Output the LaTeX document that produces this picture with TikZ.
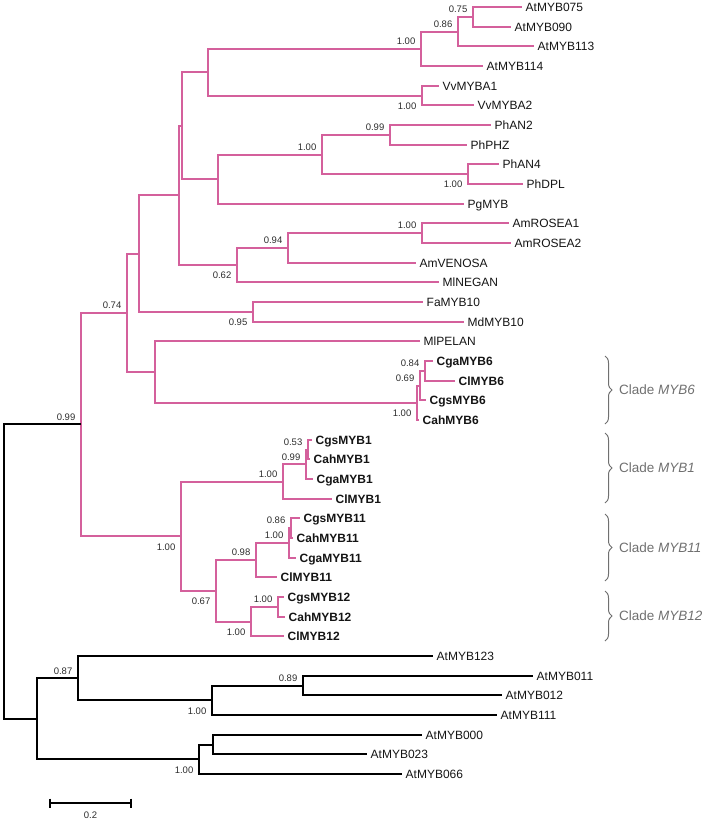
\documentclass[tikz,border=0pt]{standalone}
\usepackage{fontspec}
\setmainfont{Liberation Sans}
\usetikzlibrary{calc,decorations.pathreplacing}
\definecolor{pinkbr}{RGB}{212,96,156}
\definecolor{cladegray}{RGB}{112,112,112}
\definecolor{labgray}{RGB}{45,45,45}
\definecolor{leafcol}{RGB}{20,20,20}

\tikzset{
  br/.style={line width=2pt, draw=pinkbr, line join=miter},
  bb/.style={line width=2pt, draw=black, line join=miter},
  leaf/.style={anchor=west, inner xsep=3.5pt, inner ysep=0pt, text height=8.6pt, text depth=0pt,
     font=\fontsize{12}{14}\selectfont, text=leafcol},
  leafb/.style={leaf, font=\fontsize{12}{14}\selectfont\bfseries},
  supp/.style={anchor=east, inner sep=0pt, text height=6.8pt, text depth=0pt,
     font=\fontsize{9.5}{11}\selectfont, text=labgray},
  cladelab/.style={anchor=west, inner sep=0pt, text height=9.7pt, text depth=0pt,
     font=\fontsize{13.5}{16}\selectfont, text=cladegray},
  cbrace/.style={draw=cladegray, line width=1pt, decorate, decoration={brace, amplitude=7pt}},
}

% internal node: name, x, child A, child B, branch style
\newcommand{\inode}[5]{%
  \coordinate (tmpm) at ($(#3)!0.5!(#4)$);
  \coordinate (tmpx) at (#2,0);
  \coordinate (#1) at (tmpx |- tmpm);
  \draw[#5] (#1) |- (#3);
  \draw[#5] (#1) |- (#4);
}
% support value: node, text, vertical offset
\newcommand{\bsv}[3]{\node[supp] (s-#1) at ($(#1)+(-5.5,#3)$) {#2};}
\newcommand{\abv}{-7.5}
\newcommand{\blw}{10.5}

\begin{document}
\begin{tikzpicture}[x=1pt,y=-1pt]
\useasboundingbox (0,0) rectangle (714,820);

% ---------- leaves ----------
\node[leaf] (L1) at (522,7) {AtMYB075};
\node[leaf] (L2) at (511,27) {AtMYB090};
\node[leaf] (L3) at (534,46) {AtMYB113};
\node[leaf] (L4) at (483,66) {AtMYB114};
\node[leaf] (L5) at (439,86) {VvMYBA1};
\node[leaf] (L6) at (474,105) {VvMYBA2};
\node[leaf] (L7) at (491,125) {PhAN2};
\node[leaf] (L8) at (467,145) {PhPHZ};
\node[leaf] (L9) at (499,164) {PhAN4};
\node[leaf] (L10) at (523,184) {PhDPL};
\node[leaf] (L11) at (464,204) {PgMYB};
\node[leaf] (L12) at (509,223) {AmROSEA1};
\node[leaf] (L13) at (511,243) {AmROSEA2};
\node[leaf] (L14) at (416,263) {AmVENOSA};
\node[leaf] (L15) at (439,282) {MlNEGAN};
\node[leaf] (L16) at (423,302) {FaMYB10};
\node[leaf] (L17) at (464,322) {MdMYB10};
\node[leaf] (L18) at (420,341) {MlPELAN};
\node[leafb] (L19) at (433,361) {CgaMYB6};
\node[leafb] (L20) at (455,381) {ClMYB6};
\node[leafb] (L21) at (426,400) {CgsMYB6};
\node[leafb] (L22) at (419,420) {CahMYB6};
\node[leafb] (L23) at (312,440) {CgsMYB1};
\node[leafb] (L24) at (310,459) {CahMYB1};
\node[leafb] (L25) at (313,479) {CgaMYB1};
\node[leafb] (L26) at (332,499) {ClMYB1};
\node[leafb] (L27) at (300,518) {CgsMYB11};
\node[leafb] (L28) at (293,538) {CahMYB11};
\node[leafb] (L29) at (296,558) {CgaMYB11};
\node[leafb] (L30) at (277,577) {ClMYB11};
\node[leafb] (L31) at (284,597) {CgsMYB12};
\node[leafb] (L32) at (285,617) {CahMYB12};
\node[leafb] (L33) at (284,636) {ClMYB12};
\node[leaf] (L34) at (433,656) {AtMYB123};
\node[leaf] (L35) at (533,676) {AtMYB011};
\node[leaf] (L36) at (502,695) {AtMYB012};
\node[leaf] (L37) at (497,715) {AtMYB111};
\node[leaf] (L38) at (422,735) {AtMYB000};
\node[leaf] (L39) at (367,754) {AtMYB023};
\node[leaf] (L40) at (402,774) {AtMYB066};

% ---------- pink clade ----------
\inode{n075}{473}{L1}{L2}{br}
\inode{n086}{458}{n075}{L3}{br}
\inode{nAt}{421}{n086}{L4}{br}
\inode{nVv}{422}{L5}{L6}{br}
\inode{nAtVv}{208}{nAt}{nVv}{br}
\inode{nPh99}{390}{L7}{L8}{br}
\inode{nPhDPL}{468}{L9}{L10}{br}
\inode{nPh}{322}{nPh99}{nPhDPL}{br}
\inode{nPhPg}{218}{nPh}{L11}{br}
\inode{nA}{182}{nAtVv}{nPhPg}{br}
\inode{nRosea}{422}{L12}{L13}{br}
\inode{n094}{288}{nRosea}{L14}{br}
\inode{n062}{237}{n094}{L15}{br}
\inode{nB}{179}{nA}{n062}{br}
\inode{n095}{253}{L16}{L17}{br}
\inode{nC}{139}{nB}{n095}{br}
\inode{n084}{425}{L19}{L20}{br}
\inode{n069}{420}{n084}{L21}{br}
\inode{nMYB6}{417}{n069}{L22}{br}
\inode{nMIP}{155}{L18}{nMYB6}{br}
\inode{n074}{127}{nC}{nMIP}{br}
\inode{n053}{308}{L23}{L24}{br}
\inode{nMYBa}{306}{n053}{L25}{br}
\inode{nMYB1}{283}{nMYBa}{L26}{br}
\inode{n086b}{291}{L27}{L28}{br}
\inode{nMYBb}{289}{n086b}{L29}{br}
\inode{n098}{256}{nMYBb}{L30}{br}
\inode{nMYB12}{278}{L31}{L32}{br}
\inode{nCl12}{251}{nMYB12}{L33}{br}
\inode{n067}{216}{n098}{nCl12}{br}
\inode{nD}{181}{nMYB1}{n067}{br}
\inode{n099p}{81}{n074}{nD}{br}

% ---------- black outgroup ----------
\inode{n089}{303}{L35}{L36}{bb}
\inode{nAt11}{212}{n089}{L37}{bb}
\inode{n087}{78}{L34}{nAt11}{bb}
\inode{nIn}{213}{L38}{L39}{bb}
\inode{nAt66}{199}{nIn}{L40}{bb}
\inode{nE}{37}{n087}{nAt66}{bb}
\inode{root}{4}{n099p}{nE}{bb}

% ---------- support values ----------
\bsv{n075}{0.75}{\abv}
\bsv{n086}{0.86}{\abv}
\bsv{nAt}{1.00}{\abv}
\bsv{nVv}{1.00}{\blw}
\bsv{nPh99}{0.99}{\abv}
\bsv{nPh}{1.00}{\abv}
\bsv{nPhDPL}{1.00}{\blw}
\bsv{nRosea}{1.00}{\abv}
\bsv{n094}{0.94}{\abv}
\bsv{n062}{0.62}{\blw}
\bsv{n095}{0.95}{\blw}
\bsv{n074}{0.74}{\abv}
\bsv{n084}{0.84}{\abv}
\bsv{n069}{0.69}{\abv}
\bsv{nMYB6}{1.00}{\blw}
\bsv{n053}{0.53}{\abv}
\bsv{nMYBa}{0.99}{\abv}
\bsv{nMYB1}{1.00}{\abv}
\bsv{n086b}{0.86}{\abv}
\bsv{nMYBb}{1.00}{\abv}
\bsv{n098}{0.98}{\abv}
\bsv{nMYB12}{1.00}{\abv}
\bsv{nCl12}{1.00}{\blw}
\bsv{n067}{0.67}{\blw}
\bsv{nD}{1.00}{\blw}
\bsv{n099p}{0.99}{\abv}
\bsv{n089}{0.89}{\abv}
\bsv{nAt11}{1.00}{\blw}
\bsv{n087}{0.87}{\abv}
\bsv{nAt66}{1.00}{\blw}

% ---------- clade braces ----------
\draw[cbrace] (605,356) -- (605,424);
\node[cladelab] (c6) at (619,390) {Clade \textit{MYB6}};
\draw[cbrace] (605,433) -- (605,503);
\node[cladelab] (c1) at (619,468) {Clade \textit{MYB1}};
\draw[cbrace] (605,514) -- (605,581);
\node[cladelab] (c11) at (619,548) {Clade \textit{MYB11}};
\draw[cbrace] (605,591) -- (605,641);
\node[cladelab] (c12) at (619,616) {Clade \textit{MYB12}};

% ---------- scale bar ----------
\coordinate (sb1) at (50,803);
\coordinate (sb2) at (131,803);
\draw[line width=1.6pt] (sb1) -- (sb2);
\draw[line width=1.6pt] ($(sb1)+(0,-4.5)$) -- ($(sb1)+(0,4.5)$);
\draw[line width=1.6pt] ($(sb2)+(0,-4.5)$) -- ($(sb2)+(0,4.5)$);
\node[supp, anchor=center] (sbl) at (90.5,815) {0.2};
\end{tikzpicture}
\end{document}
